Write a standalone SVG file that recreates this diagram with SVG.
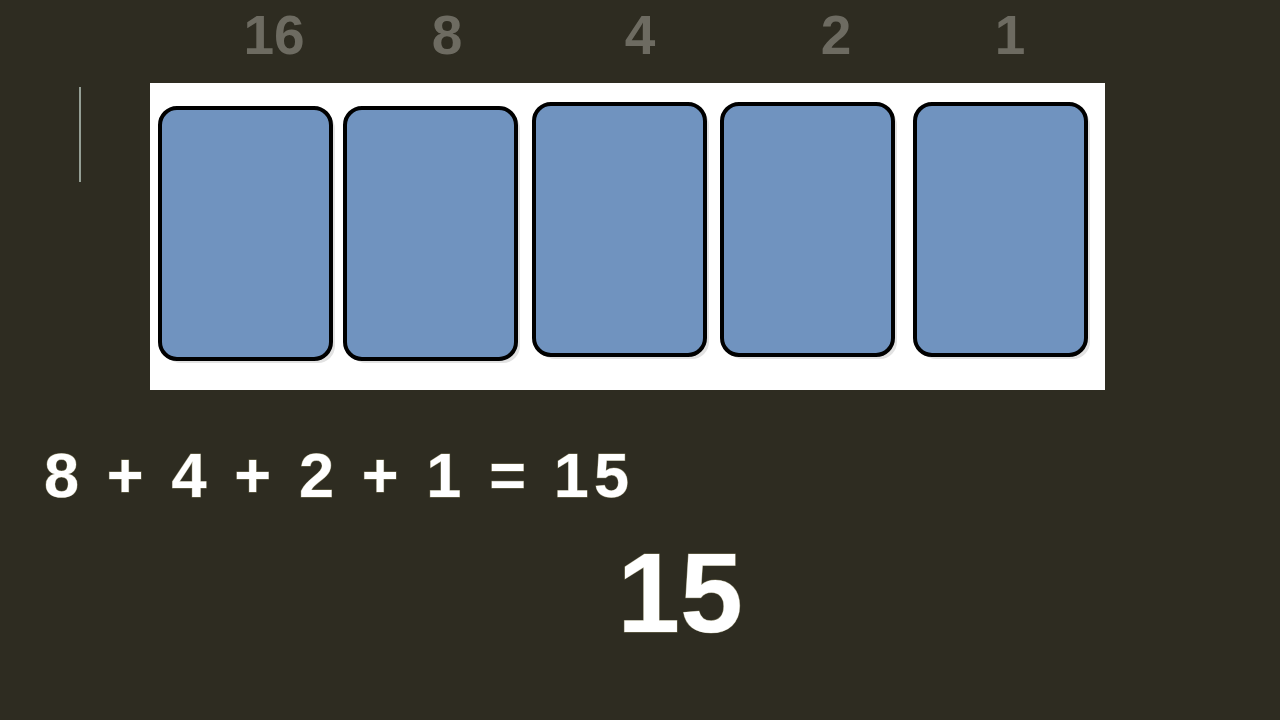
<svg xmlns="http://www.w3.org/2000/svg" width="1280" height="720" viewBox="0 0 1280 720">
<style>
.bg{fill:#2e2c21}
.card{fill:#7093bf;stroke:#000;stroke-width:4}
.shadow{fill:#e2e2e2}
.top{font-family:"Liberation Sans",Arial,sans-serif;font-weight:bold;font-size:55px;fill:#6d6b61;text-anchor:middle}
.eq{font-family:"Liberation Sans",Arial,sans-serif;font-weight:bold;fill:#ffffff;stroke:#7a7658;stroke-width:1;paint-order:stroke}
</style>
<rect class="bg" x="0" y="0" width="1280" height="720"/>
<g id="labels">
<text class="top" x="274" y="54">16</text>
<text class="top" x="447" y="54">8</text>
<text class="top" x="640" y="54">4</text>
<text class="top" x="836" y="54">2</text>
<text class="top" x="1010" y="54">1</text>
</g>
<line x1="80" y1="87" x2="80" y2="182" stroke="#b9c6bd" stroke-width="1.5"/>
<g id="panel">
<rect x="150" y="83" width="955" height="307" fill="#ffffff"/>
</g>
<g id="card16"><rect class="shadow" x="164" y="112" width="171" height="251" rx="17"/><rect class="card" x="160" y="108" width="171" height="251" rx="17"/></g>
<g id="card8"><rect class="shadow" x="349" y="112" width="171" height="251" rx="17"/><rect class="card" x="345" y="108" width="171" height="251" rx="17"/></g>
<g id="card4"><rect class="shadow" x="538" y="108" width="171" height="251" rx="17"/><rect class="card" x="534" y="104" width="171" height="251" rx="17"/></g>
<g id="card2"><rect class="shadow" x="726" y="108" width="171" height="251" rx="17"/><rect class="card" x="722" y="104" width="171" height="251" rx="17"/></g>
<g id="card1"><rect class="shadow" x="919" y="108" width="171" height="251" rx="17"/><rect class="card" x="915" y="104" width="171" height="251" rx="17"/></g>
<g id="connectors"/>
<g id="equation">
<text class="eq" x="44" y="497" font-size="63" textLength="585" lengthAdjust="spacing">8 + 4 + 2 + 1 = 15</text>
</g>
<g id="result">
<text class="eq" x="680" y="632" font-size="113" text-anchor="middle" stroke-width="2">15</text>
</g>
</svg>
